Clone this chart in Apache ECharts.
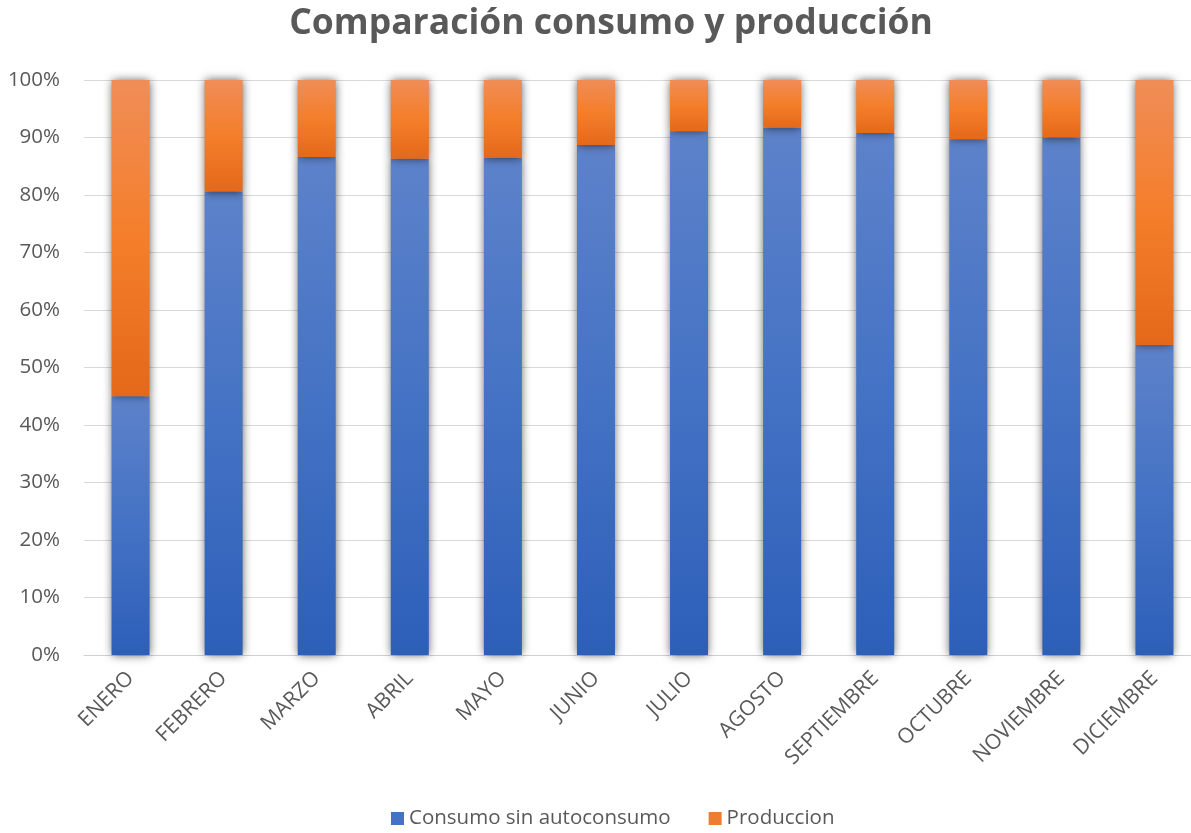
<!DOCTYPE html>
<html>
<head>
<meta charset="utf-8">
<script src="https://cdn.jsdelivr.net/npm/echarts@6/dist/echarts.min.js"></script>
<style>
  html, body { margin: 0; padding: 0; background: #ffffff; overflow: hidden; }
  #chart { width: 1210px; height: 833px; }
</style>
</head>
<body>
<div id="chart"></div>
<script>
// Months shown on the category axis
var months = ['ENERO', 'FEBRERO', 'MARZO', 'ABRIL', 'MAYO', 'JUNIO', 'JULIO',
              'AGOSTO', 'SEPTIEMBRE', 'OCTUBRE', 'NOVIEMBRE', 'DICIEMBRE'];

// Share of each month (percent) for the two stacked series
var consumoSinAutoconsumo = [45.0, 80.6, 86.6, 86.3, 86.5, 88.7, 91.1, 91.7, 90.8, 89.7, 90.0, 53.9];
var produccion = [55.0, 19.4, 13.4, 13.7, 13.5, 11.3, 8.9, 8.3, 9.2, 10.3, 10.0, 46.1];

var seriesNames = ['Consumo sin autoconsumo', 'Produccion'];

var textColor = '#595959';
var fontFamily = '"Open Sans", "Noto Sans", sans-serif';

function vgrad(stops) {
  return new echarts.graphic.LinearGradient(0, 0, 0, 1, stops);
}

var blueFill = vgrad([
  { offset: 0, color: '#5d82ca' },
  { offset: 0.5, color: '#4472c4' },
  { offset: 1, color: '#2d5fb9' }
]);
var orangeFill = vgrad([
  { offset: 0, color: '#f08d57' },
  { offset: 0.5, color: '#f47e2a' },
  { offset: 1, color: '#e4691a' }
]);

var barShadow = {
  shadowBlur: 9,
  shadowColor: 'rgba(0,0,0,0.65)',
  shadowOffsetX: 0,
  shadowOffsetY: 0
};

var chart = echarts.init(document.getElementById('chart'), null, { renderer: 'canvas' });

chart.setOption({
  backgroundColor: '#ffffff',
  animation: false,
  title: {
    text: 'Comparación consumo y producción',
    left: 606,
    textAlign: 'center',
    top: 1,
    textStyle: {
      color: textColor,
      fontFamily: fontFamily,
      fontWeight: 'bold',
      fontSize: 35.5
    }
  },
  legend: {
    bottom: -1,
    left: 386,
    itemWidth: 13,
    itemHeight: 13,
    itemGap: 38,
    icon: 'rect',
    textStyle: {
      color: textColor,
      fontFamily: fontFamily,
      fontSize: 20.5
    },
    data: [
      { name: seriesNames[0], itemStyle: { color: '#4472c4' } },
      { name: seriesNames[1], itemStyle: { color: '#ed7d31' } }
    ]
  },
  grid: {
    left: 84,
    top: 80,
    width: 1117,
    height: 575,
    containLabel: false
  },
  xAxis: {
    type: 'category',
    data: months,
    axisLine: { show: true, lineStyle: { color: '#d0d0d0', width: 1 } },
    axisTick: { show: false },
    axisLabel: {
      rotate: 45,
      interval: 0,
      margin: 20,
      color: textColor,
      fontFamily: fontFamily,
      fontSize: 21
    }
  },
  yAxis: {
    type: 'value',
    min: 0,
    max: 100,
    interval: 10,
    axisLine: { show: false },
    axisTick: { show: false },
    splitLine: { lineStyle: { color: '#d9d9d9', width: 1 } },
    axisLabel: {
      margin: 24,
      color: textColor,
      fontFamily: fontFamily,
      fontSize: 20.5,
      formatter: '{value}%'
    }
  },
  series: [
    {
      name: seriesNames[0],
      type: 'bar',
      stack: 'total',
      barWidth: 38,
      data: consumoSinAutoconsumo,
      itemStyle: Object.assign({ color: blueFill }, barShadow)
    },
    {
      name: seriesNames[1],
      type: 'bar',
      stack: 'total',
      barWidth: 38,
      data: produccion,
      itemStyle: Object.assign({ color: orangeFill }, barShadow)
    }
  ]
});
</script>
</body>
</html>
